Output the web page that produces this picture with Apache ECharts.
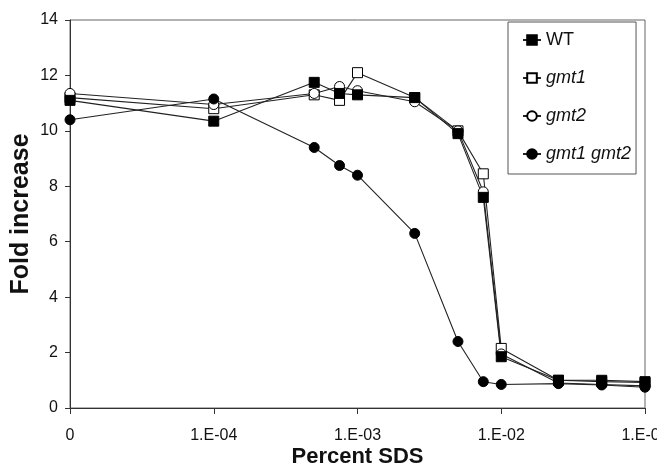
<!DOCTYPE html>
<html>
<head>
<meta charset="utf-8">
<script src="https://cdn.jsdelivr.net/npm/echarts@6/dist/echarts.min.js"></script>
<style>
  html, body { margin: 0; padding: 0; background: #fff; }
  #chart { width: 657px; height: 468px; }
</style>
</head>
<body>
<div id="chart"></div>
<script>
// percent SDS; the "0" sample is drawn at the 1e-5 position of the log axis
const sds = [0, 0.0001, 0.0005, 0.00075, 0.001, 0.0025, 0.005, 0.0075, 0.01, 0.025, 0.05, 0.1];
const ZERO_POS = 1e-5;

const wt = [11.1, 10.35, 11.75, 11.35, 11.3, 11.2, 9.9, 7.6, 1.85, 1.0, 1.0, 0.95];
const gmt1 = [11.2, 10.8, 11.3, 11.1, 12.1, 11.2, 10.0, 8.45, 2.15, 1.0, 0.95, 0.92];
const gmt2 = [11.35, 10.95, 11.35, 11.6, 11.45, 11.05, 10.0, 7.8, 1.95, 0.9, 0.85, 0.8];
const gmt1gmt2 = [10.4, 11.15, 9.4, 8.75, 8.4, 6.3, 2.4, 0.95, 0.85, 0.88, 0.83, 0.75];

const xTickLabels = ["0", "1.E-04", "1.E-03", "1.E-02", "1.E-01"];
const font = "Liberation Sans, Arial, sans-serif";

function pairs(vals) {
  return sds.map((c, i) => [c === 0 ? ZERO_POS : c, vals[i]]);
}

function makeSeries(name, vals, symbol, filled) {
  return {
    name: name,
    type: "line",
    data: pairs(vals),
    symbol: symbol,
    symbolSize: 10,
    showSymbol: true,
    lineStyle: { color: "#222", width: 1.1 },
    itemStyle: {
      color: filled ? "#000" : "#fff",
      borderColor: "#000",
      borderWidth: 1
    },
    emphasis: { disabled: true },
    animation: false
  };
}

const chart = echarts.init(document.getElementById("chart"));
chart.setOption({
  backgroundColor: "#fff",
  textStyle: { fontFamily: font },
  grid: {
    left: 70,
    right: 12,
    top: 20,
    bottom: 60,
    outerBoundsMode: "none",
    containLabel: false,
    show: true,
    borderColor: "#666",
    borderWidth: 1
  },
  legend: {
    left: 508,
    top: 22,
    orient: "vertical",
    itemWidth: 18,
    itemHeight: 12,
    itemGap: 20,
    padding: [9, 5, 11, 14],
    borderColor: "#555",
    borderWidth: 1,
    backgroundColor: "#fff",
    textStyle: { fontSize: 18, color: "#111", fontFamily: font, lineHeight: 18 },
    data: [
      { name: "WT" },
      { name: "gmt1", textStyle: { fontStyle: "italic" } },
      { name: "gmt2", textStyle: { fontStyle: "italic" } },
      { name: "gmt1 gmt2", textStyle: { fontStyle: "italic" } }
    ]
  },
  xAxis: {
    type: "log",
    logBase: 10,
    min: ZERO_POS,
    max: 0.1,
    name: "Percent SDS",
    nameLocation: "middle",
    nameGap: 38,
    nameMoveOverlap: false,
    nameTextStyle: { fontSize: 22, fontWeight: "bold", color: "#111", fontFamily: font },
    axisLine: { lineStyle: { color: "#333", width: 1 } },
    axisTick: { show: true, length: 6, lineStyle: { color: "#333" } },
    axisLabel: {
      fontSize: 16,
      color: "#111",
      margin: 20,
      formatter: function (v) {
        const k = Math.round(-Math.log10(v));
        return k === 5 ? xTickLabels[0] : xTickLabels[5 - k];
      }
    },
    splitLine: { show: false },
    minorTick: { show: false }
  },
  yAxis: {
    type: "value",
    min: 0,
    max: 14,
    interval: 2,
    name: "Fold increase",
    nameLocation: "middle",
    nameGap: 36,
    nameMoveOverlap: false,
    nameTextStyle: { fontSize: 25, fontWeight: "bold", color: "#111", fontFamily: font },
    axisLine: { show: true, lineStyle: { color: "#333", width: 1 } },
    axisTick: { show: true, length: 5, lineStyle: { color: "#333" } },
    axisLabel: { fontSize: 16, color: "#111", margin: 12 },
    splitLine: { show: false }
  },
  series: [
    makeSeries("gmt1", gmt1, "rect", false),
    makeSeries("gmt2", gmt2, "circle", false),
    makeSeries("WT", wt, "rect", true),
    makeSeries("gmt1 gmt2", gmt1gmt2, "circle", true)
  ]
});
</script>
</body>
</html>
